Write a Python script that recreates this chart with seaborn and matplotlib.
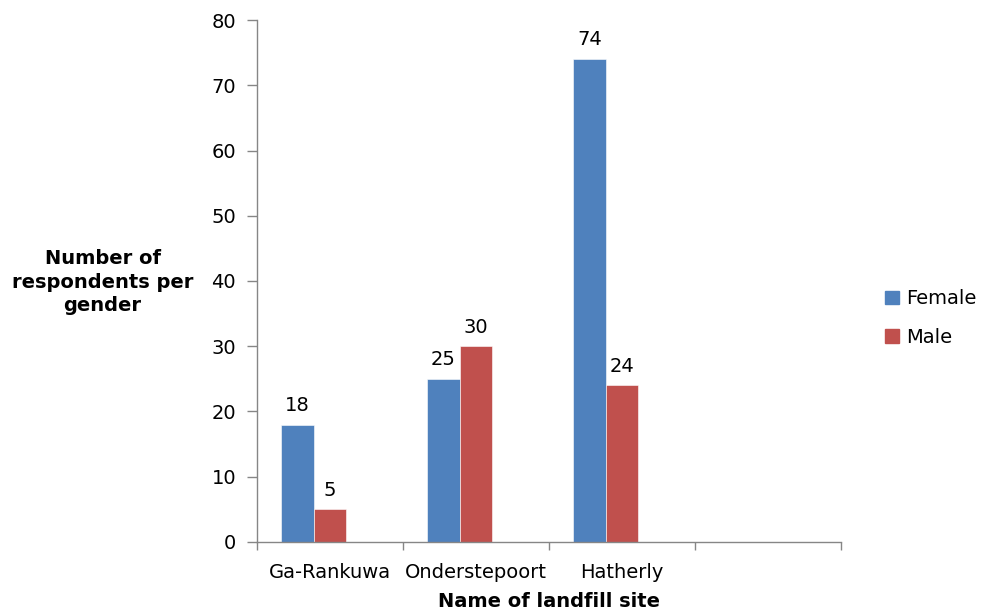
import matplotlib
matplotlib.use("Agg")
import matplotlib.pyplot as plt
import seaborn as sns
import pandas as pd
from matplotlib.patches import Patch

# data
sites = ["Ga-Rankuwa", "Onderstepoort", "Hatherly"]
female = [18, 25, 74]
male = [5, 30, 24]
slots = sites + [""]          # empty fourth category slot in the original
genders = ["Female", "Male", "Blank"]  # third, empty series keeps spacing
colors = {"Female": "#4F81BD", "Male": "#C0504D", "Blank": "#9BBB59"}

df = pd.DataFrame({
    "site": sites * 2,
    "gender": ["Female"] * len(sites) + ["Male"] * len(sites),
    "count": female + male,
})

sns.set_style("white")
plt.rcParams["font.family"] = ["DejaVu Sans"]
plt.rcParams["text.color"] = "black"
plt.rcParams["xtick.color"] = "black"
plt.rcParams["ytick.color"] = "black"
FS = 14

fig = plt.figure(figsize=(9.86, 6.14), dpi=100)
ax = fig.add_axes([0.2606, 0.1173, 0.5923, 0.8501])

sns.barplot(data=df, x="site", y="count", hue="gender", order=slots,
            hue_order=genders, palette=colors, width=0.67, saturation=1, ax=ax,
            edgecolor="white", linewidth=0.4, legend=False)

for cont in ax.containers:
    ax.bar_label(cont, fontsize=FS, padding=7, color="black")

ax.set_xlim(-0.5, len(slots) - 0.5)
ax.set_ylim(0, 80)
ax.set_yticks(range(0, 81, 10))
ax.set_xticks(range(len(sites)))
ax.set_xticklabels(sites, fontsize=FS)
ax.set_xticks([i - 0.5 for i in range(len(slots) + 1)], minor=True)
ax.tick_params(axis="x", which="major", bottom=False, length=0, pad=15, labelcolor="black")
ax.tick_params(axis="x", which="minor", bottom=True, length=6, width=1,
               color="#868686", direction="out")
ax.tick_params(axis="y", left=True, length=7, width=1, color="#868686",
               direction="out", labelsize=FS, pad=8, labelcolor="black")

for side in ["top", "right"]:
    ax.spines[side].set_visible(False)
for side in ["left", "bottom"]:
    ax.spines[side].set_color("#868686")
    ax.spines[side].set_linewidth(1)

ax.set_xlabel("Name of landfill site", fontsize=FS, fontweight="bold", labelpad=7,
              color="black")
ax.set_ylabel("")
fig.text(0.104, 0.54, "Number of\nrespondents per\ngender", ha="center", va="center",
         fontsize=FS, fontweight="bold", linespacing=1.3, color="black")

handles = [Patch(color=colors[g]) for g in ["Female", "Male"]]
fig.legend(handles, ["Female", "Male"], loc="center left", bbox_to_anchor=(0.88, 0.482),
           frameon=False, fontsize=FS, handlelength=0.7, handleheight=0.7,
           labelspacing=1.0, handletextpad=0.4)

fig.savefig("out.png", dpi=100)
